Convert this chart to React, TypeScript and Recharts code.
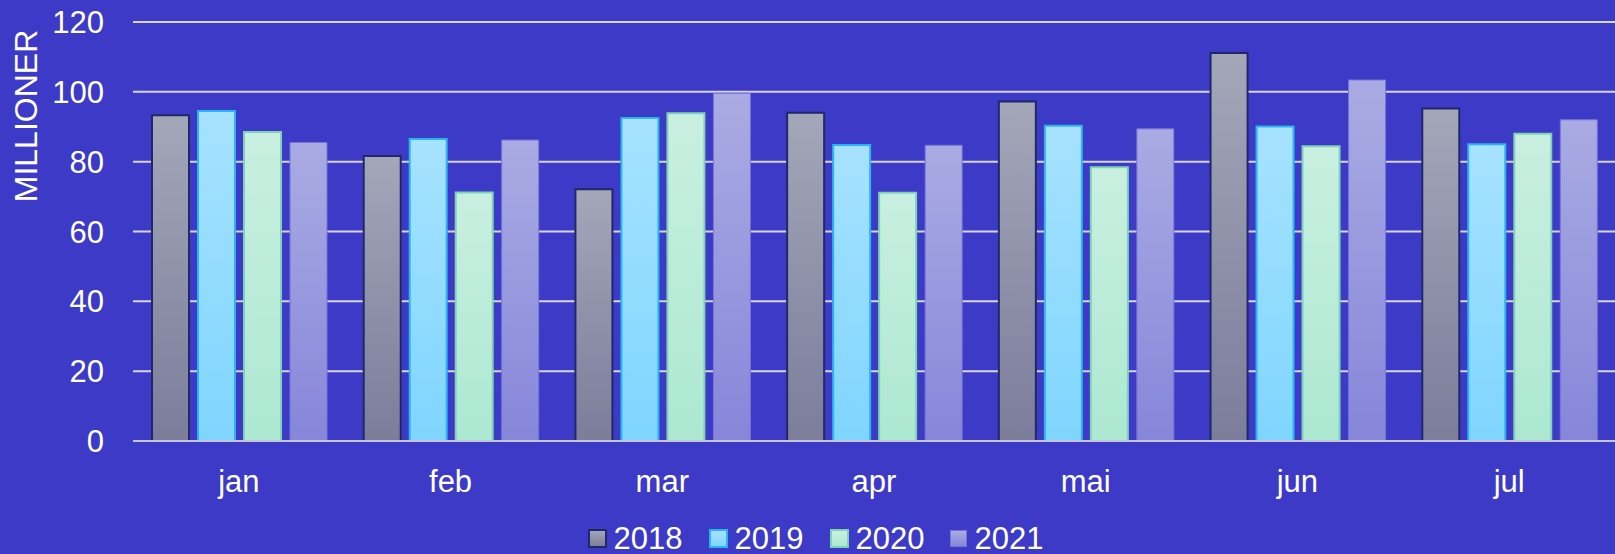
import { BarChart, Bar, XAxis, YAxis, CartesianGrid, Legend } from "recharts";

const months = ["jan", "feb", "mar", "apr", "mai", "jun", "jul"];
const v2018 = [93.3, 81.6, 72.1, 94.0, 97.2, 111.1, 95.2];
const v2019 = [94.5, 86.5, 92.5, 84.8, 90.3, 90.1, 85.0];
const v2020 = [88.5, 71.2, 93.9, 71.1, 78.4, 84.4, 88.0];
const v2021 = [85.5, 86.2, 99.6, 84.7, 89.4, 103.4, 92.0];
const yTicks = [0, 20, 40, 60, 80, 100, 120];

const data = months.map((m, i) => ({
  month: m,
  y2018: v2018[i],
  y2019: v2019[i],
  y2020: v2020[i],
  y2021: v2021[i],
}));

const FONT = "'Liberation Sans', Arial, sans-serif";
const BG = "#3c3ac6";

const series = [
  { key: "y2018", name: "2018", top: "#a4a6b9", bottom: "#7b7d9b", stroke: "#1f2968", sw: 2 },
  { key: "y2019", name: "2019", top: "#a7e2ff", bottom: "#7fd5ff", stroke: "#2ab4f2", sw: 2 },
  { key: "y2020", name: "2020", top: "#c9efe1", bottom: "#ace8d2", stroke: "#7fd3b5", sw: 2 },
  { key: "y2021", name: "2021", top: "#aaabe3", bottom: "#8686da", stroke: "#7575d6", sw: 1 },
];

const LegendRow = () => (
  <div
    style={{
      display: "flex",
      justifyContent: "center",
      gap: 26,
      paddingLeft: 16,
      fontFamily: FONT,
      fontSize: 31,
      lineHeight: "31px",
      color: "#fff",
    }}
  >
    {series.map((s) => (
      <div key={s.key} style={{ display: "flex", alignItems: "center", gap: 7 }}>
        <span
          style={{
            display: "inline-block",
            width: 15,
            height: 15,
            background: `linear-gradient(${s.top}, ${s.bottom})`,
            border: `${s.sw}px solid ${s.stroke}`,
          }}
        />
        <span>{s.name}</span>
      </div>
    ))}
  </div>
);

const YLabel = ({ viewBox }: any) => {
  const x = viewBox.x + 26;
  const y = viewBox.y + 94;
  return (
    <text
      x={x}
      y={y}
      transform={`rotate(-90 ${x} ${y})`}
      textAnchor="middle"
      dominantBaseline="central"
      fill="#fff"
      fontSize={32}
      fontFamily={FONT}
    >
      MILLIONER
    </text>
  );
};

export default function App() {
  return (
    <div style={{ position: "absolute", left: 0, top: 0, width: 1615, height: 554, background: BG }}>
      <BarChart
        width={1615}
        height={554}
        data={data}
        margin={{ top: 22, right: 0, bottom: 0, left: 0 }}
        barCategoryGap={19}
        barGap={9}
      >
        <defs>
          {series.map((s) => (
            <linearGradient key={s.key} id={`g-${s.key}`} x1="0" y1="0" x2="0" y2="1">
              <stop offset="0%" stopColor={s.top} />
              <stop offset="100%" stopColor={s.bottom} />
            </linearGradient>
          ))}
        </defs>
        <CartesianGrid vertical={false} stroke="#d6d6e2" strokeWidth={2} />
        <XAxis
          dataKey="month"
          tickLine={false}
          axisLine={{ stroke: "#c6c6d6", strokeWidth: 2 }}
          tickSize={6}
          tickMargin={23}
          tick={{ fill: "#fff", fontSize: 31, fontFamily: FONT }}
          height={82}
        />
        <YAxis
          domain={[0, 120]}
          ticks={yTicks}
          width={133}
          tickLine={false}
          axisLine={false}
          tickSize={6}
          tickMargin={23}
          tick={{ fill: "#fff", fontSize: 31, fontFamily: FONT }}
          label={{ content: YLabel }}
        />
        <Legend verticalAlign="bottom" content={LegendRow} wrapperStyle={{ bottom: 0 }} />
        {series.map((s) => (
          <Bar
            key={s.key}
            dataKey={s.key}
            name={s.name}
            fill={`url(#g-${s.key})`}
            stroke={s.stroke}
            strokeWidth={s.sw}
            isAnimationActive={false}
          />
        ))}
      </BarChart>
    </div>
  );
}
